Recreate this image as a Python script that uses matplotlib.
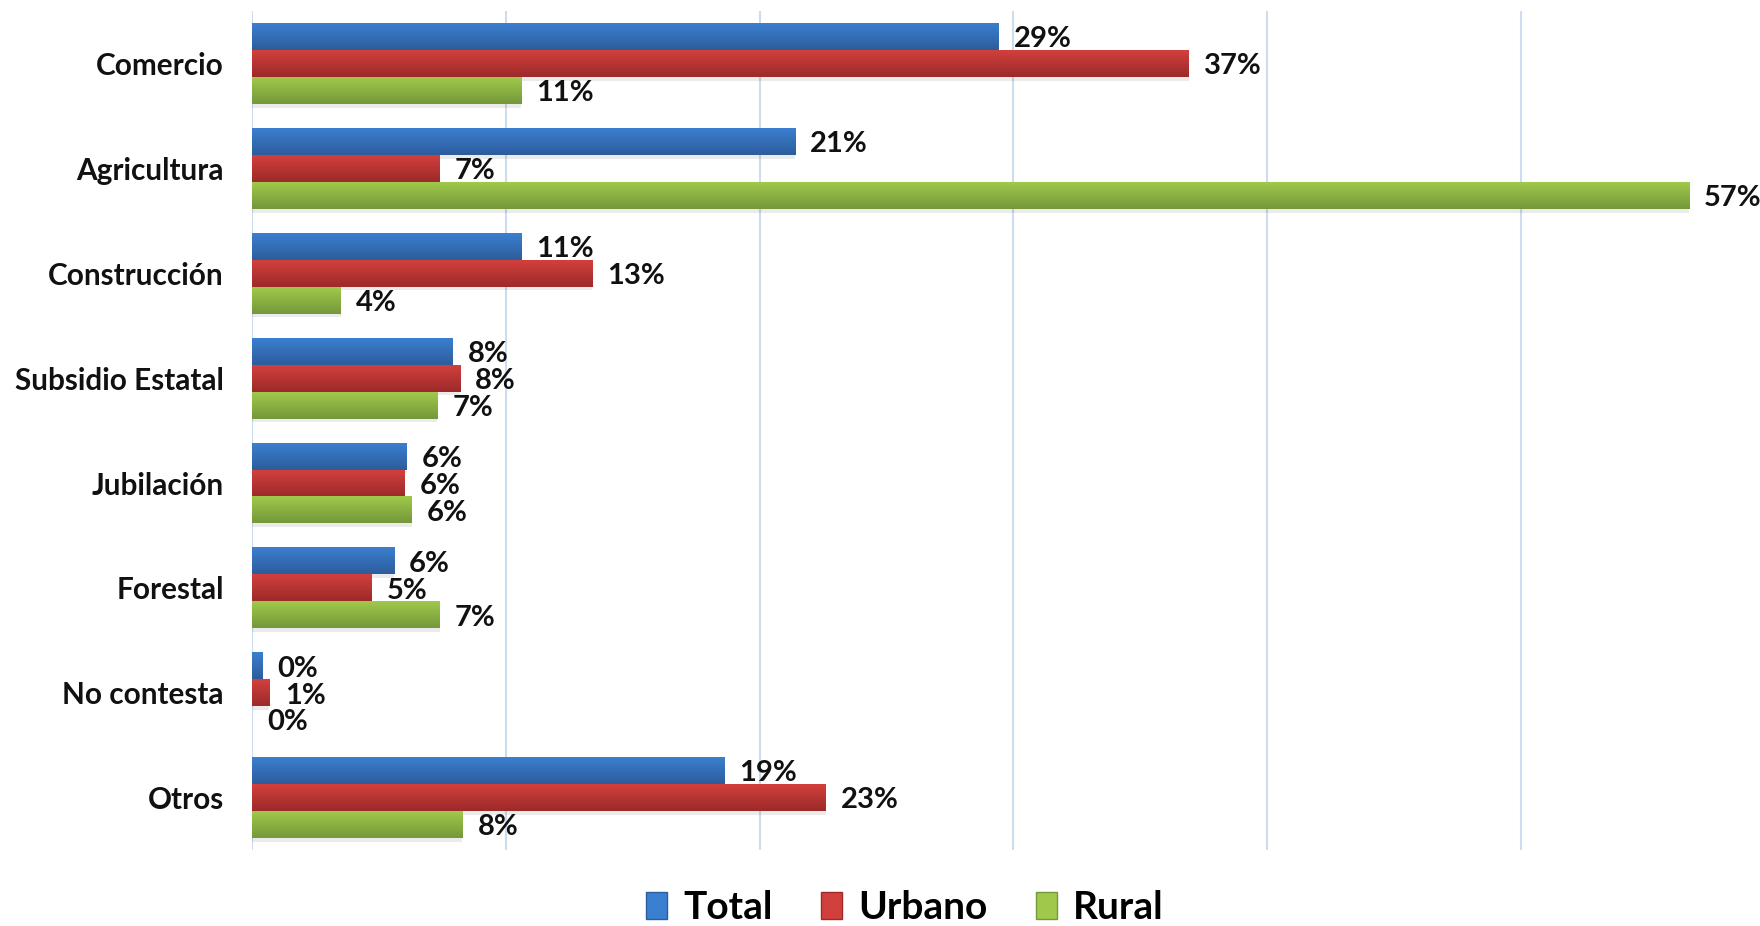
import numpy as np
import matplotlib.pyplot as plt
from matplotlib.colors import LinearSegmentedColormap
from matplotlib.patches import Patch

# categories (top to bottom) and shares in %
categorias = ['Comercio', 'Agricultura', 'Construcción', 'Subsidio Estatal',
              'Jubilación', 'Forestal', 'No contesta', 'Otros']
total = [29.4, 21.4, 10.6, 7.9, 6.1, 5.6, 0.4, 18.6]
urbano = [36.9, 7.4, 13.4, 8.2, 6.0, 4.7, 0.7, 22.6]
rural = [10.6, 56.6, 3.5, 7.3, 6.3, 7.4, 0.0, 8.3]
series = ['Total', 'Urbano', 'Rural']

# gradient colours (top, bottom) per series
grad = {
    'Total': ('#3b7fd0', '#2c5d9c'),
    'Urbano': ('#d2403d', '#9c2a29'),
    'Rural': ('#a0c94b', '#74983a'),
}

plt.rcParams['font.family'] = ['Lato', 'DejaVu Sans']
plt.rcParams['font.weight'] = 'bold'

fig = plt.figure(figsize=(17.6, 9.26), dpi=100)
ax = fig.add_axes([0.143, 0.082, 0.857, 0.906])

y = np.arange(len(categorias))
h = 0.257
datos = [total, urbano, rural]

for k, (nombre, vals) in enumerate(zip(series, datos)):
    pos = y + (k - 1) * h
    c_top, c_bot = grad[nombre]
    cmap = LinearSegmentedColormap.from_list(nombre, [c_top, c_bot])
    # soft shadow under the bars
    ax.barh(pos + 0.035, vals, height=h, color='#000000', alpha=0.08,
            linewidth=0, zorder=2)
    bars = ax.barh(pos, vals, height=h, color=c_bot, linewidth=0, zorder=3)
    for b, v in zip(bars, vals):
        yc = b.get_y()
        if v > 0:
            ax.imshow(np.linspace(0, 1, 64).reshape(-1, 1), cmap=cmap,
                      aspect='auto', origin='upper', extent=(0, v, yc + h, yc),
                      zorder=4, interpolation='bilinear')
        ax.annotate(f'{v:.0f}%', (v, yc + h / 2), xytext=(11, -2),
                    textcoords='offset points', ha='left', va='center',
                    fontsize=21, fontweight='bold', color='#111111', zorder=5)

ax.set_xlim(0, 59.4)
ax.set_ylim(len(categorias) - 0.5, -0.5)
ax.set_xticks([0, 10, 20, 30, 40, 50])
ax.set_xticklabels([])
ax.set_yticks(y)
ax.set_yticklabels(categorias, fontsize=21.4, fontweight='bold', color='#111111')
ax.tick_params(axis='y', length=0, pad=20)
ax.tick_params(axis='x', length=0)
ax.grid(axis='x', color='#cddcef', linewidth=1.5, zorder=0)
for s in ax.spines.values():
    s.set_visible(False)

handles = [Patch(facecolor=grad[s][0], edgecolor=grad[s][1]) for s in series]
fig.legend(handles, series, loc='center', bbox_to_anchor=(0.514, 0.02),
           ncol=3, frameon=False, handlelength=0.55, handleheight=0.7,
           handletextpad=0.4, columnspacing=1.25,
           prop={'weight': 'bold', 'size': 28})

fig.savefig('out.png', dpi=100)
